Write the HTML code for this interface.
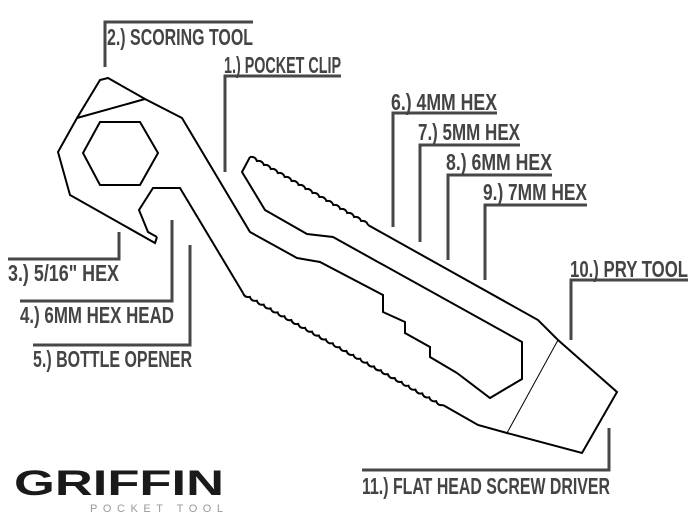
<!DOCTYPE html>
<html><head><meta charset="utf-8"><style>
html,body{margin:0;padding:0;background:#fff;}
svg{display:block}
.l{font-family:"Liberation Sans Narrow","Liberation Sans",sans-serif;font-weight:bold;font-size:23px;fill:#444}
.ln{stroke:#474747;stroke-width:3;fill:none}
</style></head><body>
<svg width="700" height="525" viewBox="0 0 700 525" xmlns="http://www.w3.org/2000/svg">
<g fill="none" stroke="#000" stroke-width="2" stroke-linejoin="miter">
<polyline points="157,237 155,243 70,195 58,152 77,118 100,80 108,78 145,99 182,118 250,232 297,258 320,262 383,295 383,312 405,322 405,333 430,347 430,357 457,373"/>
<polyline points="157,237 148,232 139,210 153,188 180,188 243,293"/>
<line x1="77" y1="118" x2="145" y2="99"/>
<polygon points="100,122 140,122 158,153 140,185 100,185 83,153"/>
<polyline points="457,373 490,398 522,379 522,342 333,237 307,234 265,210 242,172 250,157"/>
<path id="s1" d=""/>
<polyline points="368,225 538,320 558,340 617,392 582,453 507,433 478,425 443,405"/>
<path id="s2" d=""/>
<line x1="558" y1="340" x2="507" y2="433" stroke-width="1"/>
</g>
<g class="ln">
<polyline points="105,67 105,22 253,22"/>
<polyline points="225,172 225,76 341,76"/>
<polyline points="393,227 393,113 497,113"/>
<polyline points="420,242 420,145 520,145"/>
<polyline points="448,260 448,175 552,175"/>
<polyline points="485,280 485,205 587,205"/>
<polyline points="571,340 571,280 688,280"/>
<polyline points="119,232 119,259 8,259"/>
<polyline points="172,220 172,301 20,301"/>
<polyline points="190,245 190,345 33,345"/>
<polyline points="609,428 609,470 362,470"/>
</g>
<g class="l">
<text x="107" y="45" textLength="146" lengthAdjust="spacingAndGlyphs">2.) SCORING TOOL</text>
<text x="224" y="73" textLength="117" lengthAdjust="spacingAndGlyphs">1.) POCKET CLIP</text>
<text x="391" y="110" textLength="106" lengthAdjust="spacingAndGlyphs">6.) 4MM HEX</text>
<text x="418" y="140" textLength="102" lengthAdjust="spacingAndGlyphs">7.) 5MM HEX</text>
<text x="446" y="170" textLength="106" lengthAdjust="spacingAndGlyphs">8.) 6MM HEX</text>
<text x="483" y="200" textLength="104" lengthAdjust="spacingAndGlyphs">9.) 7MM HEX</text>
<text x="570" y="277" textLength="118" lengthAdjust="spacingAndGlyphs">10.) PRY TOOL</text>
<text x="8" y="281" textLength="111" lengthAdjust="spacingAndGlyphs">3.) 5/16" HEX</text>
<text x="20" y="323" textLength="154" lengthAdjust="spacingAndGlyphs">4.) 6MM HEX HEAD</text>
<text x="33" y="367" textLength="159" lengthAdjust="spacingAndGlyphs">5.) BOTTLE OPENER</text>
<text x="362" y="494" textLength="248" lengthAdjust="spacingAndGlyphs">11.) FLAT HEAD SCREW DRIVER</text>
</g>
<text x="14" y="495" textLength="210" lengthAdjust="spacingAndGlyphs" style="font-family:'Liberation Sans',sans-serif;font-weight:bold;font-size:35px;fill:#1a1a1a">GRIFFIN</text>
<text x="90" y="512" textLength="133" lengthAdjust="spacing" style="font-family:'Liberation Sans',sans-serif;font-size:11px;fill:#999">POCKET TOOL</text>
</svg>
<script>
function serr(id,ax,ay,bx,by,sign){
  var dx=bx-ax,dy=by-ay,L=Math.hypot(dx,dy),ux=dx/L,uy=dy/L;
  var nx=uy*sign,ny=-ux*sign;
  var n=Math.round(L/8),p=L/n,d="M"+ax+","+ay;
  for(var i=0;i<n;i++){
    var s=i*p;
    var x1=ax+ux*(s+p*0.5)+nx*3.5,y1=ay+uy*(s+p*0.5)+ny*3.5;
    var x2=ax+ux*(s+p),y2=ay+uy*(s+p);
    d+=" Q"+x1.toFixed(1)+","+y1.toFixed(1)+" "+x2.toFixed(1)+","+y2.toFixed(1);
  }
  document.getElementById(id).setAttribute("d",d);
}
serr("s1",250,157,368,225,1);
serr("s2",443,405,243,293,1);
</script>
</body></html>
